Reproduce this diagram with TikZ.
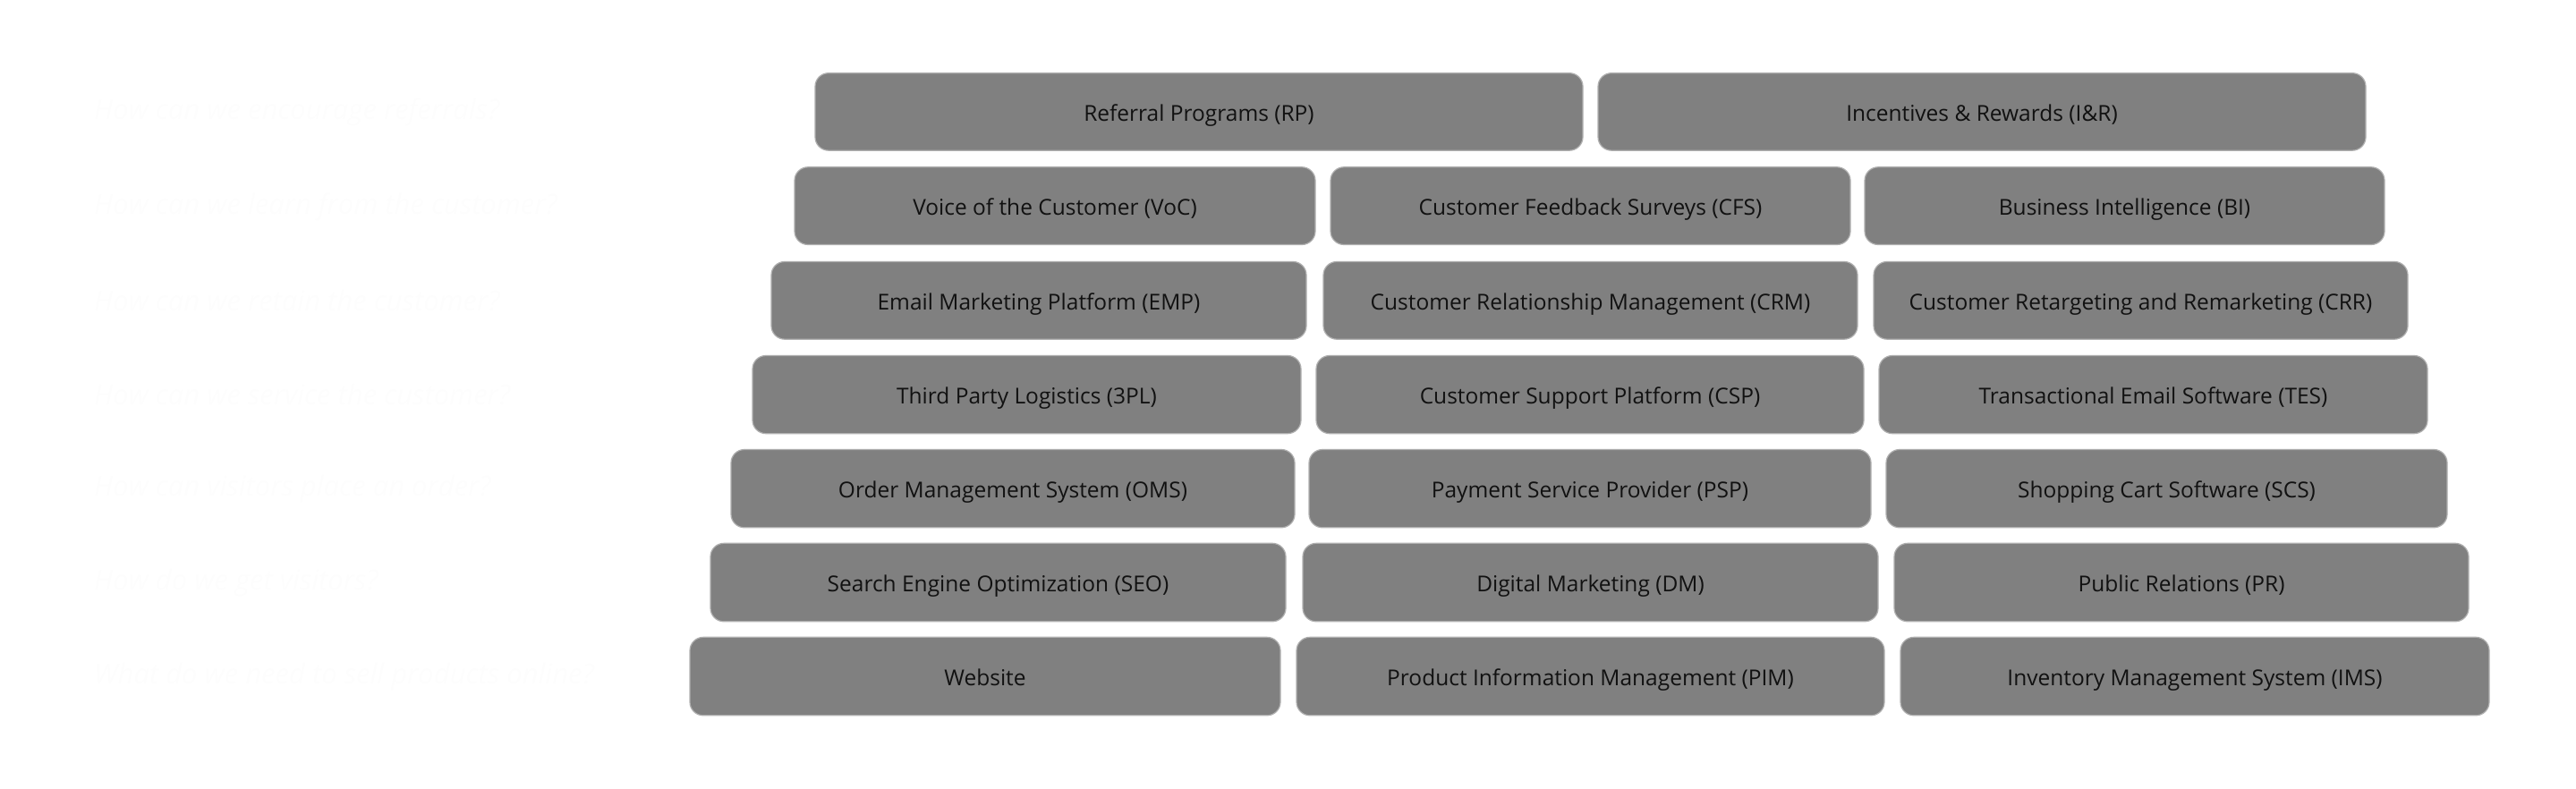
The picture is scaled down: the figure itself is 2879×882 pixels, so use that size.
\documentclass[tikz,border=0pt]{standalone}
\usepackage{fontspec}
\setmainfont{Open Sans}
\definecolor{boxfill}{RGB}{128,128,128}
\definecolor{boxline}{RGB}{176,176,176}
\definecolor{faint}{RGB}{253,253,253}
\definecolor{labeltext}{RGB}{17,17,17}
\tikzset{
  box/.style={fill=boxfill, draw=boxline, line width=1.2pt, rounded corners=15pt,
    inner sep=0pt, text=labeltext, text height=21pt, text depth=0pt,
    font=\fontsize{24.5}{28}\selectfont},
  question/.style={anchor=west, inner sep=0pt, text=faint,
    font=\fontsize{31}{35}\selectfont\itshape}
}
\newcommand\mybox[6]{%
  \pgfmathsetmacro\bxw{#3-#2}%
  \pgfmathsetmacro\bxh{#5-#4}%
  \pgfmathsetmacro\bxcx{(#2+#3)/2}%
  \pgfmathsetmacro\bxcy{-(#4+#5)/2}%
  \node[box, minimum width=\bxw pt, minimum height=\bxh pt] (#1) at (\bxcx,\bxcy) {#6};%
}
\begin{document}
\begin{tikzpicture}[x=1pt,y=1pt]
\useasboundingbox (0,0) rectangle (2879,-882);
% questions (almost invisible)
\node[question] (q1) at (105,-125) {How can we encourage referrals?};
\node[question] (q2) at (105,-231) {How can we learn from the customer?};
\node[question] (q3) at (105,-336) {How can we retain the customer?};
\node[question] (q4) at (105,-441) {How can we service the customer?};
\node[question] (q5) at (105,-546) {How can visitors place an order?};
\node[question] (q6) at (105,-651) {How do we get visitors?};
\node[question] (q7) at (105,-756) {What do we need to sell products online?};
% row 1
\mybox{rp}{911}{1769}{81.7}{168.2}{Referral Programs (RP)}
\mybox{ir}{1786}{2644}{81.7}{168.2}{Incentives \& Rewards (I\&R)}
% row 2
\mybox{voc}{888}{1470}{186.8}{273.5}{Voice of the Customer (VoC)}
\mybox{cfs}{1487}{2068}{186.8}{273.5}{Customer Feedback Surveys (CFS)}
\mybox{bi}{2084}{2665}{186.8}{273.5}{Business Intelligence (BI)}
% row 3
\mybox{emp}{862}{1460}{292.5}{379.2}{Email Marketing Platform (EMP)}
\mybox{crm}{1479}{2076}{292.5}{379.2}{Customer Relationship Management (CRM)}
\mybox{crr}{2094}{2691}{292.5}{379.2}{Customer Retargeting and Remarketing (CRR)}
% row 4
\mybox{tpl}{841}{1454}{397.5}{484.7}{Third Party Logistics (3PL)}
\mybox{csp}{1471}{2083}{397.5}{484.7}{Customer Support Platform (CSP)}
\mybox{tes}{2100}{2713}{397.5}{484.7}{Transactional Email Software (TES)}
% row 5
\mybox{oms}{817}{1447}{502.5}{589.8}{Order Management System (OMS)}
\mybox{psp}{1463}{2091}{502.5}{589.8}{Payment Service Provider (PSP)}
\mybox{scs}{2108}{2735}{502.5}{589.8}{Shopping Cart Software (SCS)}
% row 6
\mybox{seo}{794}{1437}{607.3}{694.8}{Search Engine Optimization (SEO)}
\mybox{dm}{1456}{2099}{607.3}{694.8}{Digital Marketing (DM)}
\mybox{pr}{2117}{2759}{607.3}{694.8}{Public Relations (PR)}
% row 7
\mybox{web}{771}{1431}{712.3}{799.8}{Website}
\mybox{pim}{1449}{2106}{712.3}{799.8}{Product Information Management (PIM)}
\mybox{ims}{2124}{2782}{712.3}{799.8}{Inventory Management System (IMS)}
\end{tikzpicture}
\end{document}
